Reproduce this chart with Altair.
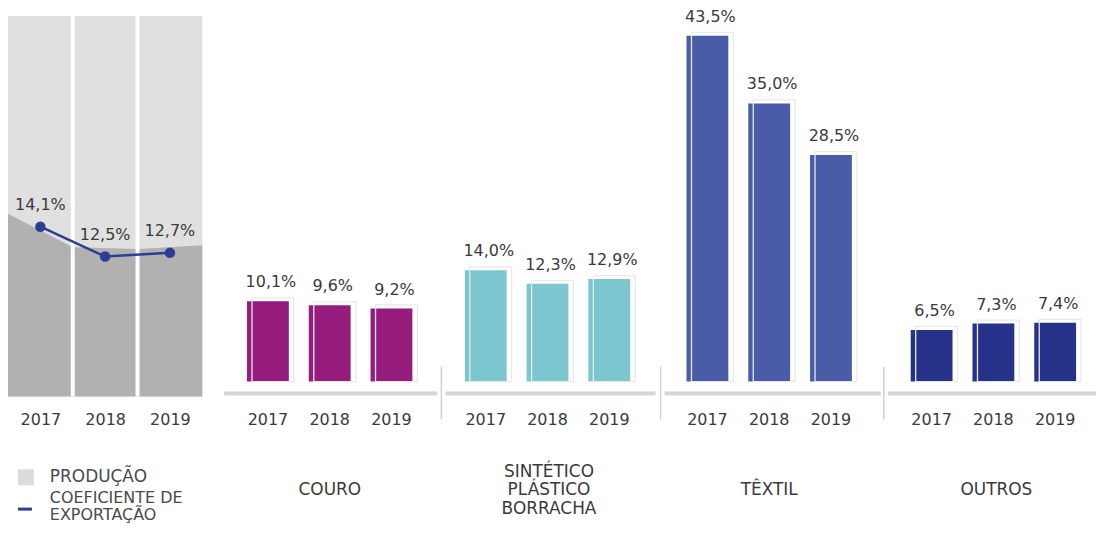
import altair as alt
import pandas as pd

FONT = "DejaVu Sans"
TXT = "#3A3A3A"

# ---- data ----
years = ["2017", "2018", "2019"]
year_nums = [2017, 2018, 2019]
coef_export = [14.1, 12.5, 12.7]
prod_edges = [2016.5, 2017.5, 2018.5, 2019.5]
prod_level = [14.8, 13.0, 12.9, 13.1]

groups = ["COURO", "SINTÉTICO\nPLÁSTICO\nBORRACHA", "TÊXTIL", "OUTROS"]
couro = [10.1, 9.6, 9.2]
sintetico = [14.0, 12.3, 12.9]
textil = [43.5, 35.0, 28.5]
outros = [6.5, 7.3, 7.4]
group_values = [couro, sintetico, textil, outros]
group_colors = ["#951B7D", "#7CC7CF", "#4A5BA8", "#26328A"]
legend_labels = ["PRODUÇÃO", "COEFICIENTE DE\nEXPORTAÇÃO"]

H = 389          # panel runs from page y=8 to 397
TOP = 7          # top of the grey columns inside the panel
LW = 213
LABEL_EXPR = "replace(format(datum.v, '.1f'), '.', ',') + '%'"

x_axis = dict(title=None, domain=False, ticks=False, grid=False, labelPadding=15,
              labelFontSize=16, labelColor=TXT, labelAngle=0, labelFont=FONT)

# ---- left panel ----
left_df = pd.DataFrame({"year": year_nums, "v": coef_export})
prod_df = pd.DataFrame({"edge": prod_edges, "level": prod_level})
xq = alt.Scale(domain=[2016.5, 2016.5 + 3 * LW / 195], nice=False, zero=False)
YMIN = 5
yq = alt.Scale(domain=[YMIN, 25.77], nice=False, zero=False)

cols = alt.Chart(left_df).transform_calculate(
    x0="datum.year - 0.5", x1="datum.year + 0.5"
).mark_rect(color="#E0E0E0").encode(
    x=alt.X("x0:Q", scale=xq, axis=alt.Axis(values=year_nums, format="d", **x_axis)),
    x2="x1:Q",
    y=alt.value(TOP), y2=alt.value(H),
)
dark = alt.Chart(prod_df).mark_area(color="#B1B1B1").encode(
    x=alt.X("edge:Q", scale=xq),
    y=alt.Y("level:Q", scale=yq, axis=None),
    y2=alt.datum(YMIN),
)
gaps = alt.Chart(left_df).transform_joinaggregate(maxy="max(year)").transform_filter(
    "datum.year < datum.maxy"
).transform_calculate(g="datum.year + 0.5").mark_rule(color="white", strokeWidth=4).encode(
    x=alt.X("g:Q", scale=xq), y=alt.value(TOP), y2=alt.value(H)
)
lbase = alt.Chart(left_df).transform_calculate(label=LABEL_EXPR)
line = lbase.mark_line(color="#2C3E94", strokeWidth=2.5).encode(
    x=alt.X("year:Q", scale=xq), y=alt.Y("v:Q", scale=yq, axis=None)
)
pts = lbase.mark_circle(color="#2C3E94", size=110, opacity=1).encode(
    x=alt.X("year:Q", scale=xq), y=alt.Y("v:Q", scale=yq)
)
plabels = lbase.mark_text(dy=-22, fontSize=16, color=TXT, font=FONT, baseline="middle").encode(
    x=alt.X("year:Q", scale=xq), y=alt.Y("v:Q", scale=yq), text="label:N"
)
leg1 = alt.Chart(pd.DataFrame({"label": [legend_labels[0]]}))
leg_sq = leg1.mark_square(color="#DCDCDC", size=260, opacity=1).encode(
    x=alt.value(18), y=alt.value(470))
leg_t1 = leg1.mark_text(align="left", baseline="middle", fontSize=17, color="#4A4A4A", font=FONT).encode(
    x=alt.value(42), y=alt.value(470), text="label:N")
leg2 = alt.Chart(pd.DataFrame({"label": [legend_labels[1]]}))
leg_dash = leg2.mark_rule(color="#2C3E94", strokeWidth=3).encode(
    x=alt.value(10), x2=alt.value(24), y=alt.value(502))
leg_t2 = leg2.mark_text(align="left", baseline="middle", fontSize=16, color="#4A4A4A", font=FONT,
                        lineBreak="\n", lineHeight=17).encode(
    x=alt.value(42), y=alt.value(491), text="label:N")

left = alt.layer(cols, dark, gaps, line, pts, plabels, leg_sq, leg_t1, leg_dash, leg_t2).properties(
    width=LW, height=H)

# ---- bar panels ----
panel_specs = [
    # width, paddingOuter, align, separator, baseline end offset, title x
    (222, 0.452, 0.48, False, -4, 110),
    (220, 0.436, 0.435, True, -5, 108),
    (224, 0.468, 0.448, True, -3, 109),
    (210, 0.355, 0.614, True, 3, 113),
]
TITLE_LH = 18.5
TITLE_Y = 483

panels = []
for name, vals, color, (W, po, al, sep, bend, tx) in zip(groups, group_values, group_colors, panel_specs):
    df = pd.DataFrame({"year": years, "v": vals})
    xs = alt.Scale(domain=years, paddingInner=0.323, paddingOuter=po, align=al)
    ys = alt.Scale(domain=[-1.88, 46.885], nice=False, zero=False)
    base = alt.Chart(df).transform_calculate(label=LABEL_EXPR)
    xenc = alt.X("year:N", scale=xs, axis=alt.Axis(**x_axis))
    bars = base.mark_bar(color=color).encode(
        x=xenc, y=alt.Y("v:Q", scale=ys, axis=None), y2=alt.datum(0))
    outline = base.mark_bar(fillOpacity=0, stroke="#E9E9E9", strokeWidth=1.3,
                            xOffset=5, yOffset=-3.5).encode(
        x=alt.X("year:N", scale=xs), y=alt.Y("v:Q", scale=ys), y2=alt.datum(0))
    labels = base.mark_text(dy=-19, dx=3, fontSize=16, color=TXT, font=FONT, baseline="middle").encode(
        x=alt.X("year:N", scale=xs), y=alt.Y("v:Q", scale=ys), text="label:N")
    gdf = alt.Chart(pd.DataFrame({"group": [name]}))
    baseline = gdf.mark_rule(color="#D6D6D6", strokeWidth=4).encode(
        x=alt.value(4), x2=alt.value(W + bend), y=alt.value(386))
    nlines = name.count("\n") + 1
    title = gdf.mark_text(fontSize=17, color=TXT, font=FONT, lineBreak="\n", lineHeight=TITLE_LH,
                          baseline="middle").encode(
        x=alt.value(tx), y=alt.value(TITLE_Y - (nlines - 1) / 2 * TITLE_LH), text="group:N")
    layers = [bars, outline, labels, baseline, title]
    if sep:
        layers.append(gdf.mark_rule(color="#D0D0D0", strokeWidth=1.5).encode(
            x=alt.value(0), y=alt.value(359), y2=alt.value(412)))
    panels.append(alt.layer(*layers).properties(width=W, height=H))

chart = alt.hconcat(left, *panels, spacing=0, bounds="flush").properties(
    padding={"left": 0, "top": 0, "right": 0, "bottom": 0},
).configure(font=FONT).configure_view(stroke=None)

chart.save("out.html", embed_options={"renderer": "svg", "actions": False})
